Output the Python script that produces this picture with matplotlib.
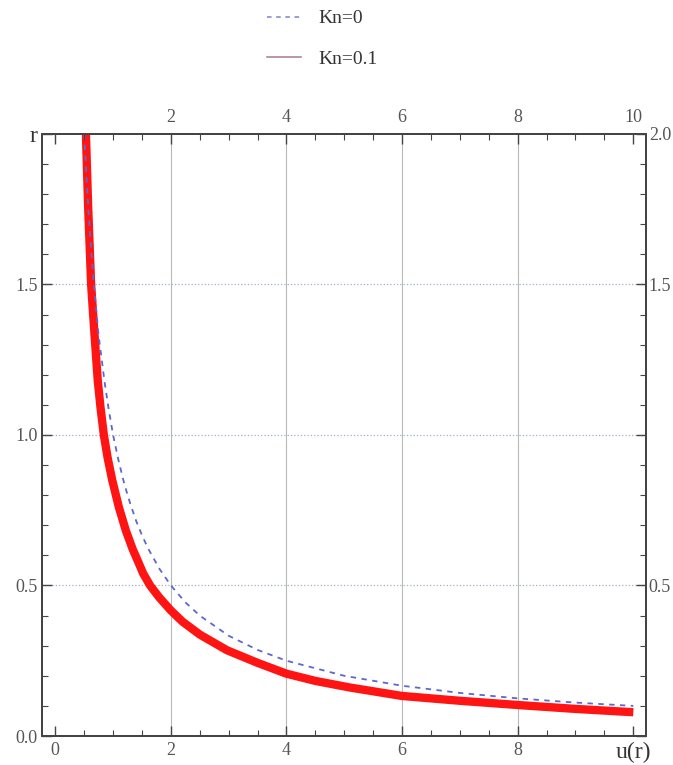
import matplotlib
matplotlib.use('Agg')
import matplotlib.pyplot as plt
from matplotlib.lines import Line2D
from matplotlib.ticker import MultipleLocator

# Kn = 0 (dashed blue)
u_kn0 = [0.5, 0.55, 0.6, 0.667, 0.75, 0.85, 0.92, 1.0, 1.1, 1.2, 1.3, 1.4, 1.5,
         1.6, 1.8, 2.0, 2.25, 2.5, 3.0, 3.5, 4.0, 5.0, 6.0, 7.0, 8.0, 9.0, 10.0]
r_kn0 = [2.0, 1.82, 1.67, 1.5, 1.33, 1.18, 1.09, 1.0, 0.91, 0.833, 0.77, 0.714,
         0.667, 0.625, 0.556, 0.5, 0.444, 0.4, 0.333, 0.286, 0.25, 0.2, 0.167,
         0.143, 0.125, 0.111, 0.1]

# Kn = 0.1 (thick red)
u_kn01 = [0.53, 0.57, 0.62, 0.68, 0.735, 0.783, 0.84, 0.905, 0.985, 1.1, 1.22,
          1.34, 1.42, 1.52, 1.64, 1.8, 2.0, 2.2, 2.5, 2.97, 3.5, 4.0, 4.5, 5.1,
          6.0, 7.0, 8.0, 9.0, 10.0]
r_kn01 = [2.0, 1.75, 1.5, 1.33, 1.18, 1.09, 1.0, 0.925, 0.85, 0.76, 0.683,
          0.62, 0.585, 0.54, 0.5, 0.46, 0.417, 0.38, 0.337, 0.285, 0.243, 0.207,
          0.183, 0.161, 0.133, 0.117, 0.103, 0.09, 0.079]

legend_labels = ['Kn=0', 'Kn=0.1']

x_ticks = [0, 2, 4, 6, 8, 10]
x_labels_bottom = ['0', '2', '4', '6', '8', 'u(r)']
x_labels_top = ['', '2', '4', '6', '8', '10']
y_ticks = [0, 0.5, 1.0, 1.5, 2.0]
y_labels_left = ['0.0', '0.5', '1.0', '1.5', 'r']
y_labels_right = ['', '0.5', '', '1.5', '2.0']

plt.rcParams['font.family'] = ['Liberation Serif', 'DejaVu Serif']

fig = plt.figure(figsize=(6.73, 7.65), dpi=100)
ax = fig.add_axes([0.0624, 0.0379, 0.8975, 0.787])

# grid
for x in [2, 4, 6, 8]:
    ax.axvline(x, color='#b4bcb4', lw=0.8, zorder=0)
for y in [0.5, 1.0, 1.5]:
    ax.axhline(y, color='#a4aec4', lw=0.9, ls=':', zorder=0)

ax.plot(u_kn01, r_kn01, color='#ff1414', lw=6, solid_capstyle='butt',
        solid_joinstyle='round', zorder=2)
ax.plot(u_kn0, r_kn0, color='#5c68d0', lw=1.3, dashes=(3, 3), zorder=3)

ax.set_xlim(-0.23, 10.22)
ax.set_ylim(0, 2.0)

for sp in ax.spines.values():
    sp.set_color('#444444')
    sp.set_linewidth(1.2)

tick_color = '#555555'
ax.set_xticks(x_ticks)
ax.set_xticklabels(x_labels_bottom)
ax.set_yticks(y_ticks)
ax.set_yticklabels(y_labels_left)
ax.xaxis.set_minor_locator(MultipleLocator(0.5))
ax.yaxis.set_minor_locator(MultipleLocator(0.1))
ax.tick_params(which='both', direction='in', colors='#444444', labelcolor=tick_color,
               labelsize=13)
ax.tick_params(which='major', length=7, width=1.0)
ax.tick_params(which='minor', length=4, width=0.8)
ax.tick_params(axis='x', pad=4)
ax.tick_params(axis='y', pad=3)
ax.get_xticklabels()[-1].set_fontsize(17)
ax.get_xticklabels()[-1].set_color('#333333')
ax.get_yticklabels()[-1].set_fontsize(17)
ax.get_yticklabels()[-1].set_color('#333333')

# top and right frame ticks
axt = ax.twiny()
axt.set_xlim(ax.get_xlim())
axt.set_xticks(x_ticks)
axt.set_xticklabels(x_labels_top)
axt.xaxis.set_minor_locator(MultipleLocator(0.5))
axt.tick_params(which='both', direction='in', colors='#444444', labelcolor=tick_color,
                labelsize=13, pad=6)
axt.tick_params(which='major', length=7, width=1.0)
axt.tick_params(which='minor', length=4, width=0.8)

axr = ax.twinx()
axr.set_ylim(ax.get_ylim())
axr.set_yticks(y_ticks)
axr.set_yticklabels(y_labels_right)
axr.yaxis.set_minor_locator(MultipleLocator(0.1))
axr.tick_params(which='both', direction='in', colors='#444444', labelcolor=tick_color,
                labelsize=13, pad=2)
axr.tick_params(which='major', length=7, width=1.0)
axr.tick_params(which='minor', length=4, width=0.8)
for a in (axt, axr):
    for sp in a.spines.values():
        sp.set_color('#444444')
        sp.set_linewidth(1.2)

handles = [Line2D([], [], color='#7c84c8', lw=1.1, dashes=(3, 3)),
           Line2D([], [], color='#a87898', lw=1.1)]
fig.legend(handles, legend_labels, loc='center', bbox_to_anchor=(0.479, 0.949),
           frameon=False, fontsize=14, handlelength=1.7, handletextpad=0.9,
           labelspacing=1.2, labelcolor='#333333')

fig.savefig('out.png', dpi=100)
